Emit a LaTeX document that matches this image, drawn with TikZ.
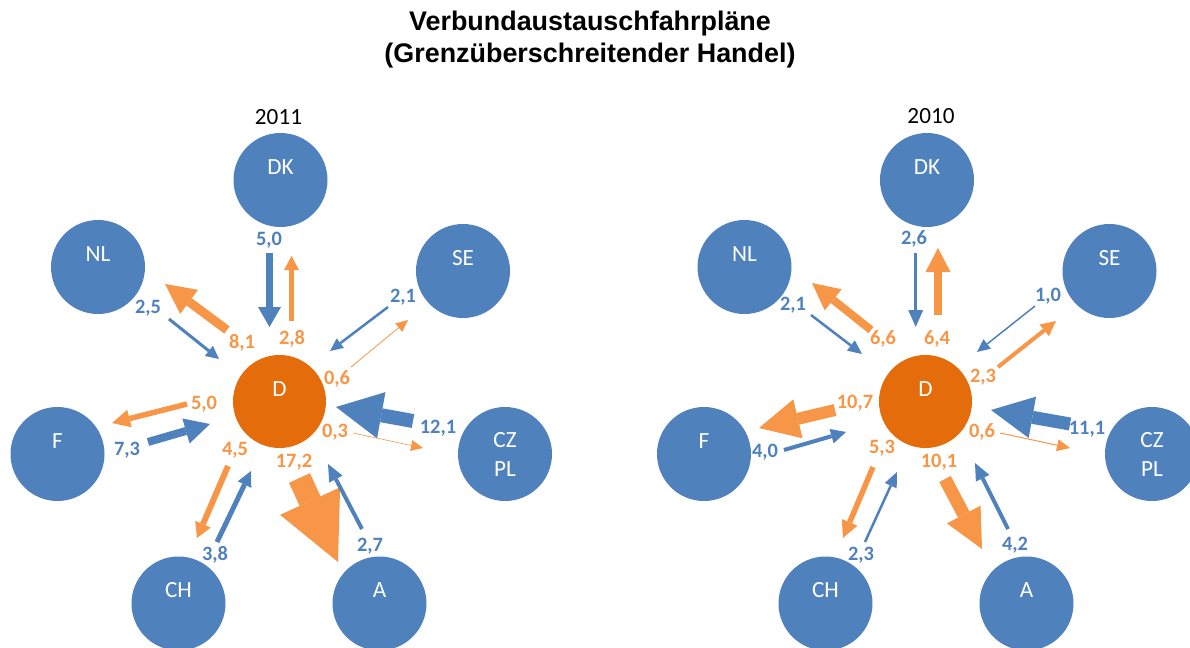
\documentclass[tikz,border=0pt]{standalone}
\usepackage{fontspec}
\setmainfont{Carlito}
\newfontfamily\titlefont{Liberation Sans}
\usetikzlibrary{arrows.meta}
\definecolor{cblue}{HTML}{4F81BD}
\definecolor{dorange}{HTML}{E46C0A}
\definecolor{aorange}{HTML}{F79646}
\tikzset{
  country/.style={circle, fill=cblue, minimum size=47pt, inner sep=0pt},
  germany/.style={circle, fill=dorange, minimum size=46.5pt, inner sep=0pt},
  cname/.style={text=white, font=\fontsize{11.6}{13}\selectfont, inner sep=0pt},
  yearlbl/.style={text=black, font=\fontsize{11.6}{13}\selectfont, inner sep=0pt},
  bval/.style={text=cblue, font=\bfseries\fontsize{10.2}{12}\selectfont, inner sep=0pt},
  oval/.style={text=aorange, font=\bfseries\fontsize{10.2}{12}\selectfont, inner sep=0pt},
  titlelbl/.style={text=black, font=\titlefont\bfseries\fontsize{13.45}{16}\selectfont, inner sep=0pt, anchor=base},
  flow/.style n args={4}{line width=#2, draw=#1, -{Triangle[width=#3, length=#4, line width=0pt]}},
}
\begin{document}
\begin{tikzpicture}[x=0.5pt, y=-0.5pt]
\useasboundingbox (0,0) rectangle (1190,648);
% title
\node[titlelbl] (t1) at (590,30.5) {Verbundaustauschfahrpläne};
\node[titlelbl] (t2) at (590,62.6) {(Grenzüberschreitender Handel)};

% ===== 2011 =====
\node[yearlbl] (y1) at (278.5,117) {2011};
\node[country] (DKa) at (280.5,180) {};
\node[country] (NLa) at (98,267) {};
\node[country] (SEa) at (463,271) {};
\node[germany] (Da) at (279.5,401.5) {};
\node[country] (Fa) at (57.5,454) {};
\node[country] (CZa) at (505,454) {};
\node[country] (CHa) at (178.5,603.5) {};
\node[country] (Aa) at (379.5,603.5) {};
\node[cname] (nDKa) at ([yshift=6.5pt]DKa.center) {DK};
\node[cname] (nNLa) at ([yshift=6.5pt]NLa.center) {NL};
\node[cname] (nSEa) at ([yshift=6.5pt]SEa.center) {SE};
\node[cname] (nDa) at ([yshift=6pt]Da.center) {D};
\node[cname] (nFa) at ([yshift=6.5pt]Fa.center) {F};
\node[cname] (nCZa) at ([yshift=7pt]CZa.center) {CZ};
\node[cname] (nPLa) at ([yshift=-7.5pt]CZa.center) {PL};
\node[cname] (nCHa) at ([yshift=6.5pt]CHa.center) {CH};
\node[cname] (nAa) at ([yshift=6.5pt]Aa.center) {A};

\coordinate (L1s) at (269.5,253);  \coordinate (L1e) at (269.5,327);
\coordinate (L2s) at (291.5,321);  \coordinate (L2e) at (291.5,256);
\coordinate (L3s) at (227,330);    \coordinate (L3e) at (165,284);
\coordinate (L4s) at (169,319);    \coordinate (L4e) at (219,359);
\coordinate (L5s) at (388,307);    \coordinate (L5e) at (330,351);
\coordinate (L6s) at (351,367);    \coordinate (L6e) at (408,320);
\coordinate (L7s) at (413,421);    \coordinate (L7e) at (336,407);
\coordinate (L8s) at (353,433);    \coordinate (L8e) at (423,448);
\coordinate (L9s) at (187,404);    \coordinate (L9e) at (112,423);
\coordinate (L10s) at (148,442);   \coordinate (L10e) at (210,424);
\coordinate (L11s) at (228,466);   \coordinate (L11e) at (197,538);
\coordinate (L12s) at (217,542);   \coordinate (L12e) at (251,471);
\coordinate (L13s) at (299.5,478); \coordinate (L13e) at (338,562);
\coordinate (L14s) at (362,529);   \coordinate (L14e) at (328,464);

\draw[flow={cblue}{3.5pt}{11.5pt}{10pt}] (L1s) -- (L1e);
\draw[flow={aorange}{2.25pt}{7.5pt}{7pt}] (L2s) -- (L2e);
\draw[flow={aorange}{4.5pt}{15pt}{15pt}] (L3s) -- (L3e);
\draw[flow={cblue}{1.5pt}{6.5pt}{6.5pt}] (L4s) -- (L4e);
\draw[flow={cblue}{1.25pt}{6pt}{6.5pt}] (L5s) -- (L5e);
\draw[flow={aorange}{0.4pt}{5.5pt}{6pt}] (L6s) -- (L6e);
\draw[flow={cblue}{7pt}{23.5pt}{23pt}] (L7s) -- (L7e);
\draw[flow={aorange}{0.3pt}{5.5pt}{6pt}] (L8s) -- (L8e);
\draw[flow={aorange}{2.75pt}{9pt}{9pt}] (L9s) -- (L9e);
\draw[flow={cblue}{4pt}{13pt}{12.5pt}] (L10s) -- (L10e);
\draw[flow={aorange}{3pt}{8.5pt}{7.5pt}] (L11s) -- (L11e);
\draw[flow={cblue}{2.5pt}{7.5pt}{7.5pt}] (L12s) -- (L12e);
\draw[flow={aorange}{11.5pt}{33pt}{33.5pt}] (L13s) -- (L13e);
\draw[flow={cblue}{2pt}{7.5pt}{8.5pt}] (L14s) -- (L14e);

\node[bval] (va1) at (269,240) {5,0};
\node[oval] (va2) at (292,339) {2,8};
\node[oval] (va3) at (242,343) {8,1};
\node[bval] (va4) at (148,308) {2,5};
\node[bval] (va5) at (403,297) {2,1};
\node[oval] (va6) at (337,379) {0,6};
\node[bval] (va7) at (438,428) {12,1};
\node[oval] (va8) at (335,432) {0,3};
\node[oval] (va9) at (204,404) {5,0};
\node[bval] (va10) at (127,450) {7,3};
\node[oval] (va11) at (235,450) {4,5};
\node[bval] (va12) at (215,555) {3,8};
\node[oval] (va13) at (294,462) {17,2};
\node[bval] (va14) at (370,546) {2,7};

% ===== 2010 =====
\node[yearlbl] (y2) at (931,116) {2010};
\node[country] (DKb) at (927,180) {};
\node[country] (NLb) at (744.5,267) {};
\node[country] (SEb) at (1109.5,271) {};
\node[germany] (Db) at (925.5,401.5) {};
\node[country] (Fb) at (704,454) {};
\node[country] (CZb) at (1152,454) {};
\node[country] (CHb) at (825.5,603.5) {};
\node[country] (Ab) at (1026.5,603.5) {};
\node[cname] (nDKb) at ([yshift=6.5pt]DKb.center) {DK};
\node[cname] (nNLb) at ([yshift=6.5pt]NLb.center) {NL};
\node[cname] (nSEb) at ([yshift=6.5pt]SEb.center) {SE};
\node[cname] (nDb) at ([yshift=6pt]Db.center) {D};
\node[cname] (nFb) at ([yshift=6.5pt]Fb.center) {F};
\node[cname] (nCZb) at ([yshift=7pt]CZb.center) {CZ};
\node[cname] (nPLb) at ([yshift=-7.5pt]CZb.center) {PL};
\node[cname] (nCHb) at ([yshift=6.5pt]CHb.center) {CH};
\node[cname] (nAb) at ([yshift=6.5pt]Ab.center) {A};

\coordinate (R1s) at (915.7,253);  \coordinate (R1e) at (915.7,327);
\coordinate (R2s) at (938,315);    \coordinate (R2e) at (938,248);
\coordinate (R3s) at (871,330);    \coordinate (R3e) at (812,283);
\coordinate (R4s) at (811,315);    \coordinate (R4e) at (862,354);
\coordinate (R5s) at (1035,306);   \coordinate (R5e) at (977,352);
\coordinate (R6s) at (998,367);    \coordinate (R6e) at (1056,321);
\coordinate (R7s) at (1070,424);   \coordinate (R7e) at (991,410);
\coordinate (R8s) at (1000,433);   \coordinate (R8e) at (1070,448);
\coordinate (R9s) at (835,410);    \coordinate (R9e) at (759,428);
\coordinate (R10s) at (784,450);   \coordinate (R10e) at (846,432);
\coordinate (R11s) at (873,467);   \coordinate (R11e) at (843,538);
\coordinate (R12s) at (865,542);   \coordinate (R12e) at (897,472);
\coordinate (R13s) at (945,479);   \coordinate (R13e) at (982,549);
\coordinate (R14s) at (1008,529);  \coordinate (R14e) at (975,463);

\draw[flow={cblue}{1.65pt}{7.5pt}{8.5pt}] (R1s) -- (R1e);
\draw[flow={aorange}{4.15pt}{12.5pt}{12pt}] (R2s) -- (R2e);
\draw[flow={aorange}{4pt}{13.5pt}{13.5pt}] (R3s) -- (R3e);
\draw[flow={cblue}{1.25pt}{6.5pt}{7pt}] (R4s) -- (R4e);
\draw[flow={cblue}{0.75pt}{6pt}{6.5pt}] (R5s) -- (R5e);
\draw[flow={aorange}{2pt}{7.5pt}{7.5pt}] (R6s) -- (R6e);
\draw[flow={cblue}{6.5pt}{21pt}{21pt}] (R7s) -- (R7e);
\draw[flow={aorange}{0.5pt}{6pt}{6.5pt}] (R8s) -- (R8e);
\draw[flow={aorange}{6pt}{20pt}{20pt}] (R9s) -- (R9e);
\draw[flow={cblue}{2pt}{7.5pt}{7.5pt}] (R10s) -- (R10e);
\draw[flow={aorange}{2.75pt}{8.5pt}{8.5pt}] (R11s) -- (R11e);
\draw[flow={cblue}{1.25pt}{6.5pt}{7.5pt}] (R12s) -- (R12e);
\draw[flow={aorange}{6.5pt}{19pt}{19.5pt}] (R13s) -- (R13e);
\draw[flow={cblue}{2pt}{7.5pt}{8.5pt}] (R14s) -- (R14e);

\node[bval] (vb1) at (914,239) {2,6};
\node[oval] (vb2) at (937,339) {6,4};
\node[oval] (vb3) at (883,339) {6,6};
\node[bval] (vb4) at (793,305) {2,1};
\node[bval] (vb5) at (1048,296) {1,0};
\node[oval] (vb6) at (983,377) {2,3};
\node[bval] (vb7) at (1087,429) {11,1};
\node[oval] (vb8) at (982,432) {0,6};
\node[oval] (vb9) at (855,403) {10,7};
\node[bval] (vb10) at (765,452) {4,0};
\node[oval] (vb11) at (882,448) {5,3};
\node[bval] (vb12) at (861,555) {2,3};
\node[oval] (vb13) at (939,462) {10,1};
\node[bval] (vb14) at (1015,545) {4,2};
\end{tikzpicture}
\end{document}
